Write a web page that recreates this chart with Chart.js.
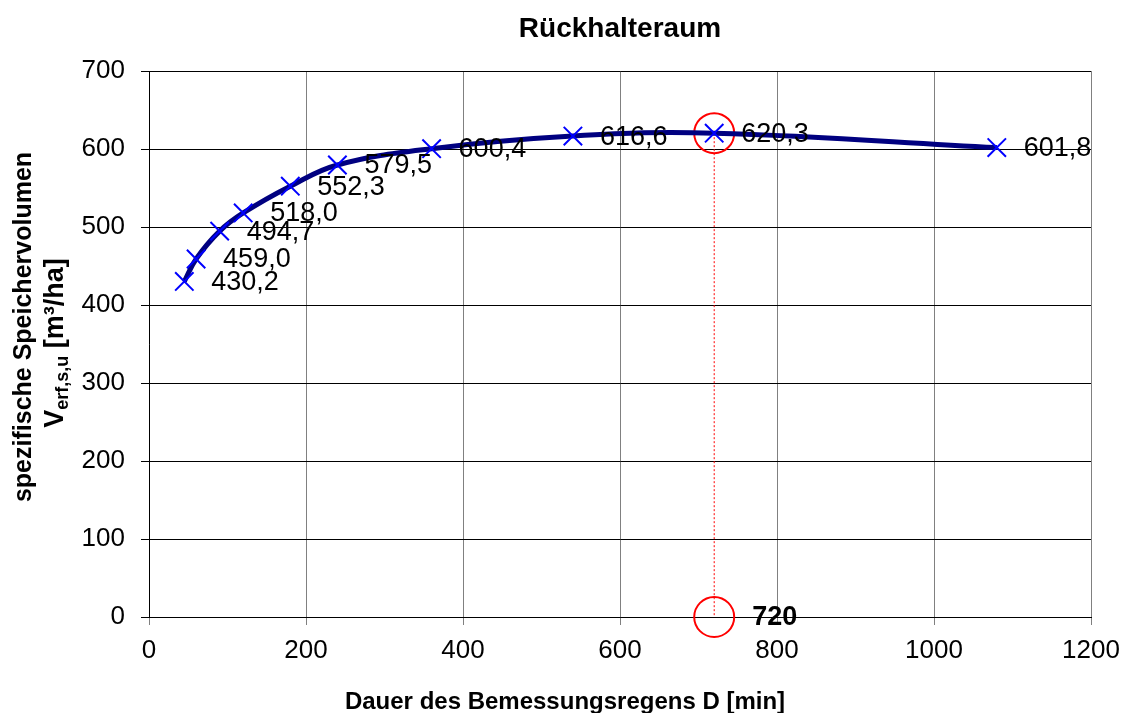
<!DOCTYPE html>
<html>
<head>
<meta charset="utf-8">
<script src="https://cdn.jsdelivr.net/npm/chart.js@4"></script>
<style>
  html, body { margin: 0; padding: 0; background: #fff; }
  #wrap { width: 1130px; height: 713px; }
</style>
</head>
<body>
<div id="wrap"><canvas id="c" width="1130" height="713"></canvas></div>
<script>
// ---- data ----
const durations = [45, 60, 90, 120, 180, 240, 360, 540, 720, 1080];
const volumes = [430.2, 459.0, 494.7, 518.0, 552.3, 579.5, 600.4, 616.6, 620.3, 601.8];
const markD = 720;
const markV = 620.3;
const xTicksMin = 0, xTicksMax = 1200, xStep = 200;
const yTicksMin = 0, yTicksMax = 700, yStep = 100;
const titleText = 'Rückhalteraum';
const xTitleText = 'Dauer des Bemessungsregens D [min]';
const yTitleLine1 = 'spezifische Speichervolumen';
const yTitleMain = 'V';
const yTitleSub = 'erf,s,u';
const yTitleRest = ' [m³/ha]';

const FONT = '"Liberation Sans", Arial, Helvetica, sans-serif';
Chart.defaults.font.family = FONT;
Chart.defaults.font.size = 26;
Chart.defaults.color = '#000';

const fmt = v => v.toFixed(1).replace('.', ',');

const mainData = durations.map((d, i) => ({ x: d, y: volumes[i] }));

const decor = {
  id: 'decor',
  afterDatasetsDraw(chart) {
    const ctx = chart.ctx;
    const meta = chart.getDatasetMeta(0);
    ctx.save();
    ctx.fillStyle = '#000';
    ctx.font = '27px ' + FONT;
    ctx.textAlign = 'left';
    ctx.textBaseline = 'middle';
    meta.data.forEach((el, i) => {
      ctx.fillText(fmt(volumes[i]), el.x + 27, el.y + 1);
    });
    const xs = chart.scales.x, ys = chart.scales.y;
    ctx.font = 'bold 27px ' + FONT;
    ctx.fillText(String(markD), xs.getPixelForValue(markD) + 38, ys.getPixelForValue(0) + 1);
    ctx.restore();
  },
  afterDraw(chart) {
    const ctx = chart.ctx;
    const area = chart.chartArea;
    ctx.save();
    ctx.fillStyle = '#000';
    // title
    ctx.font = 'bold 28px ' + FONT;
    ctx.textAlign = 'center';
    ctx.textBaseline = 'alphabetic';
    ctx.fillText(titleText, (area.left + area.right) / 2, 37);
    // x title
    ctx.font = 'bold 24px ' + FONT;
    ctx.fillText(xTitleText, chart.width / 2, 709);
    // y title line 1
    ctx.font = 'bold 25px ' + FONT;
    ctx.save();
    ctx.translate(31, (area.top + area.bottom) / 2 - 17);
    ctx.rotate(-Math.PI / 2);
    ctx.textAlign = 'center';
    ctx.fillText(yTitleLine1, 0, 0);
    ctx.restore();
    // y title line 2 with subscript
    ctx.save();
    ctx.translate(63, (area.top + area.bottom) / 2 - 1);
    ctx.rotate(-Math.PI / 2);
    ctx.textAlign = 'left';
    const fBig = 'bold 27px ' + FONT, fSmall = 'bold 18px ' + FONT;
    ctx.font = fBig; const w1 = ctx.measureText(yTitleMain).width;
    ctx.font = fSmall; const w2 = ctx.measureText(yTitleSub).width;
    ctx.font = fBig; const w3 = ctx.measureText(yTitleRest).width;
    let x0 = -(w1 + w2 + w3) / 2;
    ctx.font = fBig; ctx.fillText(yTitleMain, x0, 0); x0 += w1;
    ctx.font = fSmall; ctx.fillText(yTitleSub, x0, 5); x0 += w2;
    ctx.font = fBig; ctx.fillText(yTitleRest, x0, 0);
    ctx.restore();
    ctx.restore();
  }
};

new Chart(document.getElementById('c'), {
  type: 'line',
  data: {
    datasets: [
      {
        data: mainData,
        borderColor: '#000080',
        borderWidth: 5,
        tension: 0.4,
        pointStyle: 'crossRot',
        pointRadius: 13,
        pointHoverRadius: 13,
        pointBorderColor: '#0000FF',
        pointBorderWidth: 2,
        pointBackgroundColor: 'rgba(0,0,0,0)',
        fill: false
      },
      {
        data: [{ x: markD, y: markV }, { x: markD, y: 0 }],
        showLine: false,
        pointStyle: 'circle',
        pointRadius: 20,
        pointHoverRadius: 20,
        pointBorderColor: '#FF0000',
        pointBorderWidth: 2,
        pointBackgroundColor: 'rgba(0,0,0,0)',
        clip: false
      },
      {
        data: [{ x: markD, y: markV }, { x: markD, y: 0 }],
        borderColor: '#FF0000',
        borderWidth: 1,
        borderDash: [2, 2],
        pointRadius: 0,
        tension: 0,
        fill: false
      }
    ]
  },
  options: {
    responsive: false,
    animation: false,
    devicePixelRatio: 1,
    layout: { padding: { top: 71, right: 39, bottom: 0, left: 0 } },
    plugins: { legend: { display: false }, tooltip: { enabled: false }, title: { display: false } },
    scales: {
      x: {
        type: 'linear',
        min: xTicksMin, max: xTicksMax,
        ticks: { stepSize: xStep, padding: 10, maxRotation: 0, autoSkip: false, callback: v => String(v) },
        grid: { color: '#808080', lineWidth: 1, tickLength: 8, tickColor: '#808080' },
        border: { color: '#000', width: 1 },
        afterFit: s => { s.height = 96; }
      },
      y: {
        type: 'linear',
        min: yTicksMin, max: yTicksMax,
        ticks: { stepSize: yStep, padding: 16, callback: v => String(v) },
        grid: { color: '#000', lineWidth: 1, tickLength: 8, tickColor: '#000' },
        border: { color: '#000', width: 1 },
        afterFit: s => { s.width = 149; }
      }
    }
  },
  plugins: [decor]
});
</script>
</body>
</html>
